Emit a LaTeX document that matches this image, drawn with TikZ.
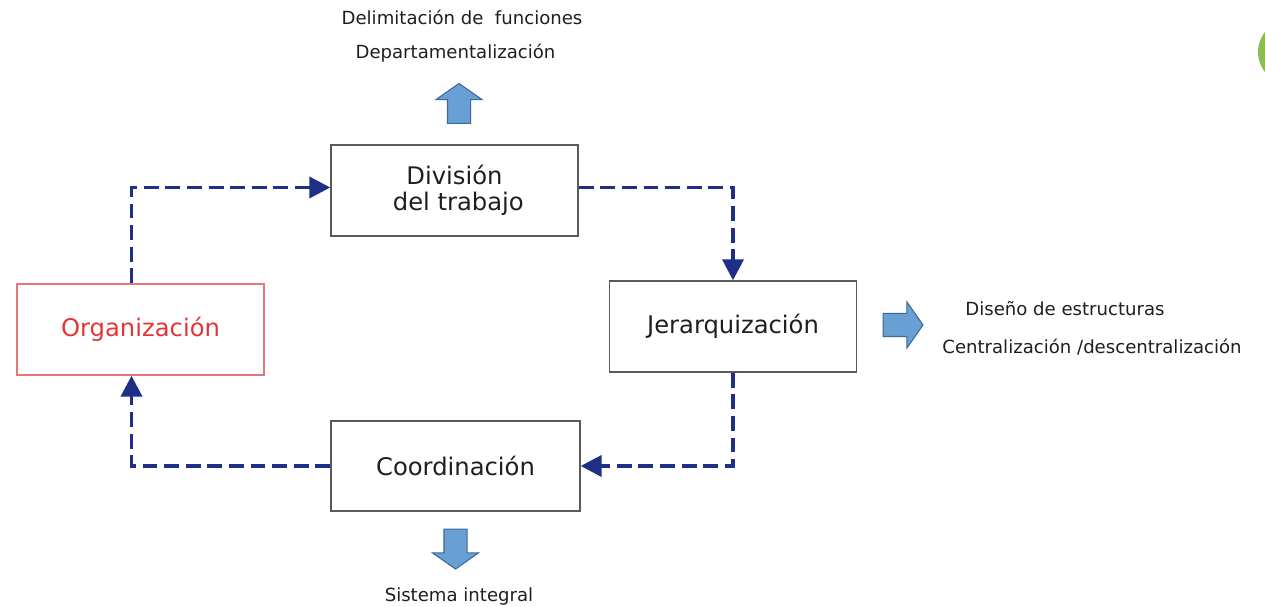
\documentclass[tikz,border=0pt]{standalone}
\usepackage{fontspec}
\setmainfont{DejaVu Sans}
\usepackage{xcolor}
\usepackage{tikz}
\usetikzlibrary{arrows.meta,shapes.arrows}
\definecolor{flowblue}{RGB}{31,46,134}
\definecolor{arrowfill}{RGB}{104,160,212}
\definecolor{arrowline}{RGB}{62,104,152}
\definecolor{orgred}{RGB}{228,52,52}
\definecolor{orgline}{RGB}{226,120,120}
\definecolor{boxline}{RGB}{90,90,90}
\definecolor{textgray}{RGB}{30,30,30}
\definecolor{leafgreen}{RGB}{140,188,82}

\begin{document}
\begin{tikzpicture}[
      x=0.02cm, y=-0.02cm,
      box/.style={draw=boxline, line width=0.8pt, minimum width=4.94cm, minimum height=1.82cm,
                  align=center, text=textgray, font=\fontsize{13.8}{14.6}\selectfont},
      flow/.style={draw=flowblue, line width=2.2pt, dash pattern=on 8.5pt off 3.8pt,
                   -{Triangle[width=0.42cm,length=0.42cm]}},
      bigarrow/.style={single arrow, fill=arrowfill, draw=arrowline, line width=0.6pt,
                       inner sep=0.22cm, minimum height=0.8cm, single arrow head extend=0.23cm,
                       single arrow tip angle=110},
      note/.style={font=\fontsize{10.3}{12}\selectfont, text=textgray}
    ]
      \useasboundingbox (0,0) rectangle (1265,607);
      % the four stages
      \node[box] (div) at (454.5,190.5) {División\\ \ del trabajo};
      \node[box] (jer) at (733,326.5) {Jerarquización};
      \node[box, minimum width=4.98cm, minimum height=1.8cm] (coord) at (455.5,466) {Coordinación};
      \node[box, draw=orgline, text=orgred] (org) at (140.5,329.5) {Organización};
      % dashed cycle
      \draw[flow] ([xshift=-0.18cm]org.north) |- ([yshift=0.06cm]div.west);
      \draw[flow] ([yshift=0.06cm]div.east) -| (jer.north);
      \draw[flow] (jer.south) |- (coord.east);
      \draw[flow] (coord.west) -| ([xshift=-0.18cm]org.south);
      % outcomes
      \node[bigarrow, rotate=90] (up) at (459,107.5) {};
      \node[bigarrow] (right) at (899,325) {};
      \node[bigarrow, rotate=-90] (down) at (455.5,545) {};
      \node[note] (delim) at (462,17) {Delimitación de\ \ funciones};
      \node[note] (depto) at (455.5,53) {Departamentalización};
      \node[note] (diseno) at (1065,309) {Diseño de estructuras};
      \node[note] (central) at (1092,347) {Centralización /descentralización};
      \node[note] (sistema) at (459,597) {Sistema integral};
      % green edge mark
      \begin{scope}
        \clip (0,0) rectangle (1265,607);
        \fill[leafgreen] (1290,52) circle (32);
      \end{scope}
    \end{tikzpicture}
\end{document}
